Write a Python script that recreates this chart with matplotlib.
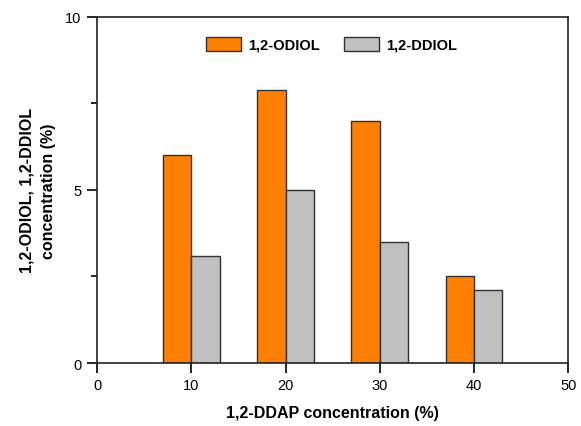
import matplotlib.pyplot as plt
import numpy as np

plt.rcParams['font.family'] = ['Liberation Sans', 'DejaVu Sans']

ddap = [10, 20, 30, 40]
odiol = [6.0, 7.9, 7.0, 2.5]
ddiol = [3.1, 5.0, 3.5, 2.1]
series_names = ['1,2-ODIOL', '1,2-DDIOL']

fig = plt.figure(figsize=(5.81, 4.27), dpi=100)
ax = fig.add_axes([0.167, 0.1475, 0.811, 0.8105])

x = np.array(ddap)
w = 3
ax.bar(x - w / 2, odiol, width=w, color='#FF8000', edgecolor='#303030', linewidth=1.0, label=series_names[0])
ax.bar(x + w / 2, ddiol, width=w, color='#C0C0C0', edgecolor='#303030', linewidth=1.0, label=series_names[1])

ax.set_xlim(0, 50)
ax.set_ylim(0, 10)
ax.set_xticks(np.arange(0, 51, 10))
ax.set_yticks([0, 5, 10])
ax.set_yticks([2.5, 7.5], minor=True)
ax.tick_params(axis='both', which='major', direction='out', length=7, width=1.2, labelsize=10.5, pad=4)
ax.tick_params(axis='y', which='minor', direction='out', length=4, width=1.2)
for s in ax.spines.values():
    s.set_linewidth(1.2)
    s.set_color('#222222')

ax.set_xlabel('1,2-DDAP concentration (%)', fontsize=11.5, fontweight='bold', labelpad=9)
ax.set_ylabel('1,2-ODIOL, 1,2-DDIOL\nconcentration (%)', fontsize=11.5, fontweight='bold',
              labelpad=7, linespacing=1.55)

leg = ax.legend(loc='upper center', bbox_to_anchor=(0.498, 0.98), ncol=2, frameon=False,
                handlelength=2.4, handleheight=1.1, columnspacing=1.65, handletextpad=0.5,
                prop={'weight': 'bold', 'size': 10.5})

fig.savefig('out.png', dpi=100)
